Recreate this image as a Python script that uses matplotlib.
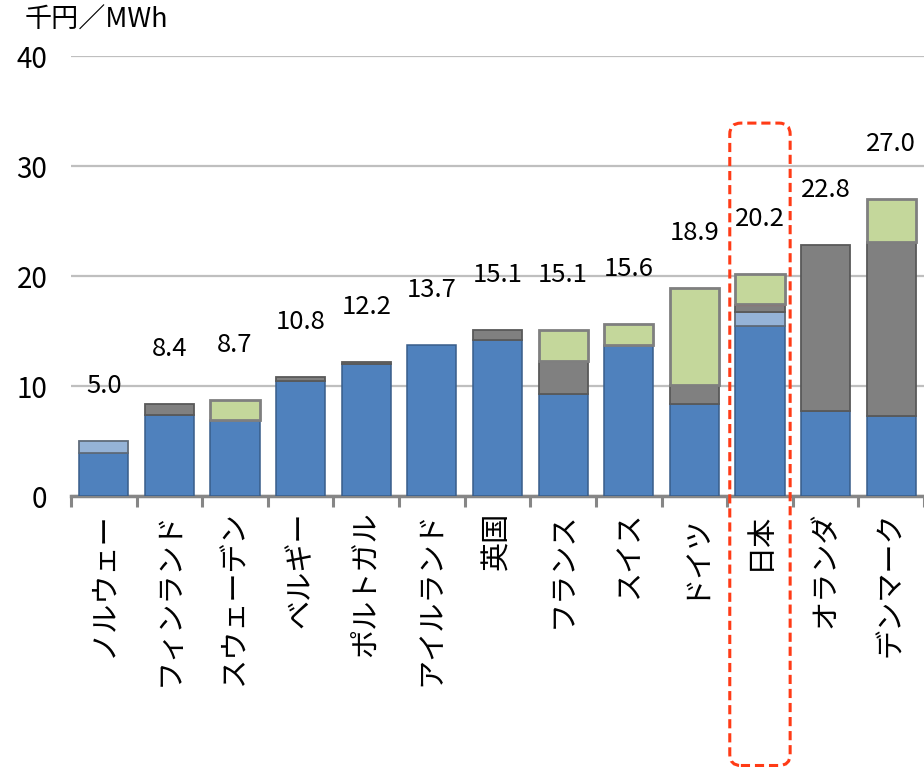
import matplotlib
matplotlib.use("Agg")
import matplotlib.pyplot as plt
from matplotlib.patches import FancyBboxPatch
import numpy as np

plt.rcParams['font.family'] = ['Noto Sans CJK JP', 'DejaVu Sans']

countries = ["ノルウェー", "フィンランド", "スウェーデン", "ベルギー", "ポルトガル",
             "アイルランド", "英国", "フランス", "スイス", "ドイツ", "日本",
             "オランダ", "デンマーク"]

# cost components per country (千円/MWh), stacked bottom to top
seg_blue = [3.9, 7.4, 6.9, 10.5, 12.0, 13.7, 14.2, 9.3, 13.7, 8.4, 15.5, 7.7, 7.3]
seg_lightblue = [1.1, 0, 0, 0, 0, 0, 0, 0, 0, 0, 1.2, 0, 0]
seg_gray = [0, 1.0, 0, 0.3, 0.2, 0, 0.9, 3.0, 0, 1.7, 0.7, 15.1, 15.8]
seg_red = [0, 0, 0, 0, 0, 0, 0, 0, 0, 0, 0.05, 0, 0]
seg_green = [0, 0, 1.8, 0, 0, 0, 0, 2.8, 1.9, 8.8, 2.75, 0, 3.9]

yticks = [0, 10, 20, 30, 40]
unit_label = "千円／MWh"
highlight = "日本"

layers = [
    (seg_blue, "#4F81BD", "#385D8A", 1.1),
    (seg_lightblue, "#95B3D7", "#5F6B7A", 1.3),
    (seg_gray, "#808080", "#595959", 1.3),
    (seg_red, "#C0504D", "#C0504D", 0.8),
    (seg_green, "#C4D79B", "#7F7F7F", 2.0),
]

W, H = 924, 767
fig = plt.figure(figsize=(W / 100, H / 100), dpi=100)
ax = fig.add_axes([71 / W, 271 / H, 853 / W, 440 / H])

x = np.arange(len(countries))
bottom = np.zeros(len(countries))
for vals, face, edge, lw in layers:
    v = np.array(vals, dtype=float)
    m = v > 0
    ax.bar(x[m], v[m], width=0.75, bottom=bottom[m], color=face,
           edgecolor=edge, linewidth=lw, zorder=3)
    bottom += v

for xi, tot in zip(x, bottom):
    ax.text(xi, tot + 5.0, f"{tot:.1f}", ha="center", va="center",
            fontsize=18.5, color="black", zorder=4)

ax.set_xlim(-0.5, 12.36)
ax.set_ylim(0, 40)
ax.set_yticks(yticks)
ax.set_yticklabels([str(t) for t in yticks], fontsize=20)
ax.tick_params(axis="y", length=0, pad=17)
ax.yaxis.grid(True, color="#BFBFBF", linewidth=1.6, zorder=0)
ax.set_axisbelow(True)

ax.set_xticks(x)
ax.set_xticklabels(countries, rotation=90, fontsize=21, va="top", ha="center")
ax.tick_params(axis="x", which="major", length=0, pad=11)
ax.set_xticks(np.arange(-0.5, len(countries), 1.0), minor=True)
ax.tick_params(axis="x", which="minor", length=8, width=2.2, color="#868686",
               direction="out")

for s in ["left", "right", "top"]:
    ax.spines[s].set_visible(False)
ax.spines["bottom"].set_color("#868686")
ax.spines["bottom"].set_linewidth(2.5)

fig.text(25 / W, 1 - 20 / H, unit_label, fontsize=19.5, ha="left", va="center")

# dashed rounded frame around the highlighted country
hi = countries.index(highlight)
(x0, y0), (x1, y1) = ax.transData.transform([(hi - 0.46, -24.5), (hi + 0.46, 33.9)])
fx0, fy0 = x0 / W, y0 / H
fx1, fy1 = x1 / W, y1 / H
box = FancyBboxPatch((fx0, fy0), fx1 - fx0, fy1 - fy0,
                     boxstyle="round,pad=0,rounding_size=0.012",
                     mutation_aspect=W / H,
                     transform=fig.transFigure, fill=False,
                     edgecolor="#FF3B16", linewidth=2.2, linestyle=(0, (3, 1.6)),
                     zorder=10)
fig.patches.append(box)

fig.savefig("out.png", dpi=100)
